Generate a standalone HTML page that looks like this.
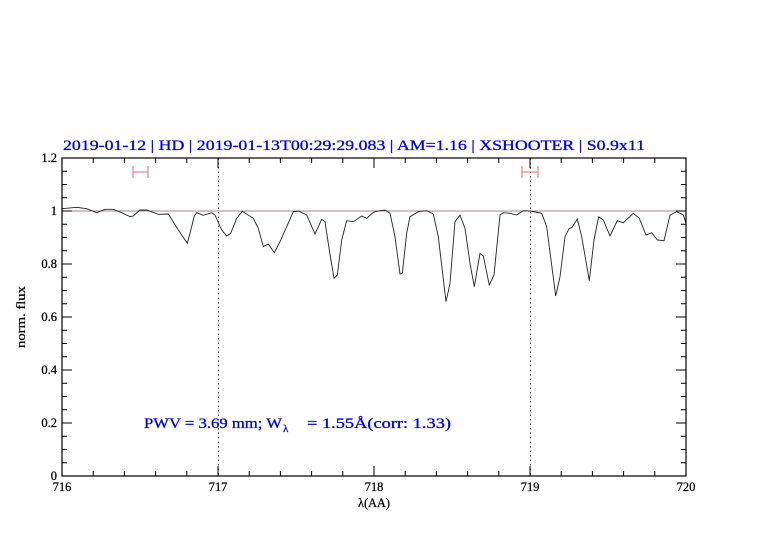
<!DOCTYPE html>
<html><head><meta charset="utf-8"><style>
html,body{margin:0;padding:0;background:#fff;}
svg{display:block;font-family:"Liberation Serif","DejaVu Serif",serif;}
</style></head><body>
<svg width="782" height="542" viewBox="0 0 782 542" xmlns="http://www.w3.org/2000/svg">
<rect width="782" height="542" fill="#fff"/>
<text x="63" y="150" font-size="14.5" fill="#0000ee" stroke="#0000ee" stroke-width="0.3" textLength="582" lengthAdjust="spacingAndGlyphs">2019-01-12  |  HD  |  2019-01-13T00:29:29.083  |  AM=1.16  |  XSHOOTER  |  S0.9x11</text>
<line x1="218.5" y1="158" x2="218.5" y2="476" stroke="#444" stroke-width="1" stroke-dasharray="1.5,3"/>
<line x1="530.5" y1="158" x2="530.5" y2="476" stroke="#444" stroke-width="1" stroke-dasharray="1.5,3"/>
<line x1="62" y1="211" x2="686" y2="211" stroke="#b08080" stroke-width="1"/>
<g stroke="#f08080" stroke-width="1.2">
<line x1="133" y1="172" x2="148" y2="172"/><line x1="133" y1="166" x2="133" y2="178"/><line x1="148" y1="166" x2="148" y2="178"/>
<line x1="522" y1="172" x2="538" y2="172"/><line x1="522" y1="166" x2="522" y2="178"/><line x1="538" y1="166" x2="538" y2="178"/>
</g>
<polyline fill="none" stroke="#222" stroke-width="0.9" points="62,208.5 66,208.3 76.7,207.3 86.7,208.7 96.7,212.7 105,209.3 113.3,209.3 121.7,212.7 130,216.7 133.3,216 140,210 146.7,210 158.3,214.3 168.3,214 178.3,230 187.3,243.3 190,233.3 194.3,216 196.7,212.7 203.3,215.3 211.7,212.7 215,215 221.7,230 226.7,236 230.7,233.3 236.7,218.3 242.3,211.3 253.3,218.3 258.3,228.3 263.3,246.7 268.3,244 274.3,252.7 280,241.7 286.7,226.7 293.3,211.7 298.3,211 306.7,215 315,234 321.7,219.3 325,221.7 329.3,250 334,278.3 337.3,275 341.7,240 346.7,220.7 353.3,221.7 361.7,216 366.7,218.3 373.3,212.3 380,210.7 385,210 390,213.3 395,236.7 400,274 402.3,273.3 406.7,233.3 410,216.7 418.3,211.7 426.7,210.7 433.3,214 438.3,236.7 446,301.7 450,283.3 455,221.7 460,215 465,228.3 470,263.3 474.3,286.7 480,253.3 483.3,256 489.3,285 494,275 500,215 503.3,212.7 510,213.3 516.7,215 523.3,210.7 530,211 541.7,213.3 546.7,226.7 555.7,296 560,276.7 565,236.7 569.3,228.3 571.7,227.7 577.3,219 581.7,236.7 589.3,280.7 594,240 598.7,216.7 603.3,220 610,236 617.3,220.7 623.3,222.7 633.3,213.3 639.3,218.3 646,235 651.7,232.7 657.3,240 664,240.7 670,215 676.7,211.7 683.3,215 686,223.3"/>
<rect x="62" y="158" width="624" height="318" fill="none" stroke="#000" stroke-width="1.2"/>
<g stroke="#000" stroke-width="1">
<path d="M93.2,476v-5M124.4,476v-5M155.6,476v-5M186.8,476v-5M249.2,476v-5M280.4,476v-5M311.6,476v-5M342.8,476v-5M405.2,476v-5M436.4,476v-5M467.6,476v-5M498.8,476v-5M561.2,476v-5M592.4,476v-5M623.6,476v-5M654.8,476v-5M218,476v-10M374,476v-10M530,476v-10
M93.2,158v5M124.4,158v5M155.6,158v5M186.8,158v5M249.2,158v5M280.4,158v5M311.6,158v5M342.8,158v5M405.2,158v5M436.4,158v5M467.6,158v5M498.8,158v5M561.2,158v5M592.4,158v5M623.6,158v5M654.8,158v5M218,158v10M374,158v10M530,158v10"/>
<path d="M62,462.75h5M62,449.5h5M62,436.25h5M62,409.75h5M62,396.5h5M62,383.25h5M62,356.75h5M62,343.5h5M62,330.25h5M62,303.75h5M62,290.5h5M62,277.25h5M62,250.75h5M62,237.5h5M62,224.25h5M62,197.75h5M62,184.5h5M62,171.25h5M62,423h10M62,370h10M62,317h10M62,264h10M62,211h10
M686,462.75h-5M686,449.5h-5M686,436.25h-5M686,409.75h-5M686,396.5h-5M686,383.25h-5M686,356.75h-5M686,343.5h-5M686,330.25h-5M686,303.75h-5M686,290.5h-5M686,277.25h-5M686,250.75h-5M686,237.5h-5M686,224.25h-5M686,197.75h-5M686,184.5h-5M686,171.25h-5M686,423h-10M686,370h-10M686,317h-10M686,264h-10M686,211h-10"/>
</g>
<g font-size="12.5" fill="#000" stroke="#000" stroke-width="0.25">
<g text-anchor="end">
<text x="57" y="480">0</text><text x="57" y="427">0.2</text><text x="57" y="374">0.4</text><text x="57" y="321">0.6</text><text x="57" y="268">0.8</text><text x="57" y="215">1</text><text x="57" y="162">1.2</text>
</g>
<g text-anchor="middle">
<text x="62" y="491">716</text><text x="218" y="491">717</text><text x="374" y="491">718</text><text x="530" y="491">719</text><text x="686" y="491">720</text>
<text x="374" y="507" textLength="32" lengthAdjust="spacingAndGlyphs">λ(AA)</text>
<text transform="translate(25,317) rotate(-90)" textLength="62" lengthAdjust="spacingAndGlyphs">norm. flux</text>
</g>
</g>
<g font-size="14.5" fill="#0000ee" stroke="#0000ee" stroke-width="0.3">
<text x="144" y="428" textLength="138" lengthAdjust="spacingAndGlyphs">PWV = 3.69 mm; W</text>
<text x="283" y="432" font-size="11">λ</text>
<text x="307" y="428" textLength="144" lengthAdjust="spacingAndGlyphs">= 1.55Å(corr: 1.33)</text>
</g>
</svg>
</body></html>
